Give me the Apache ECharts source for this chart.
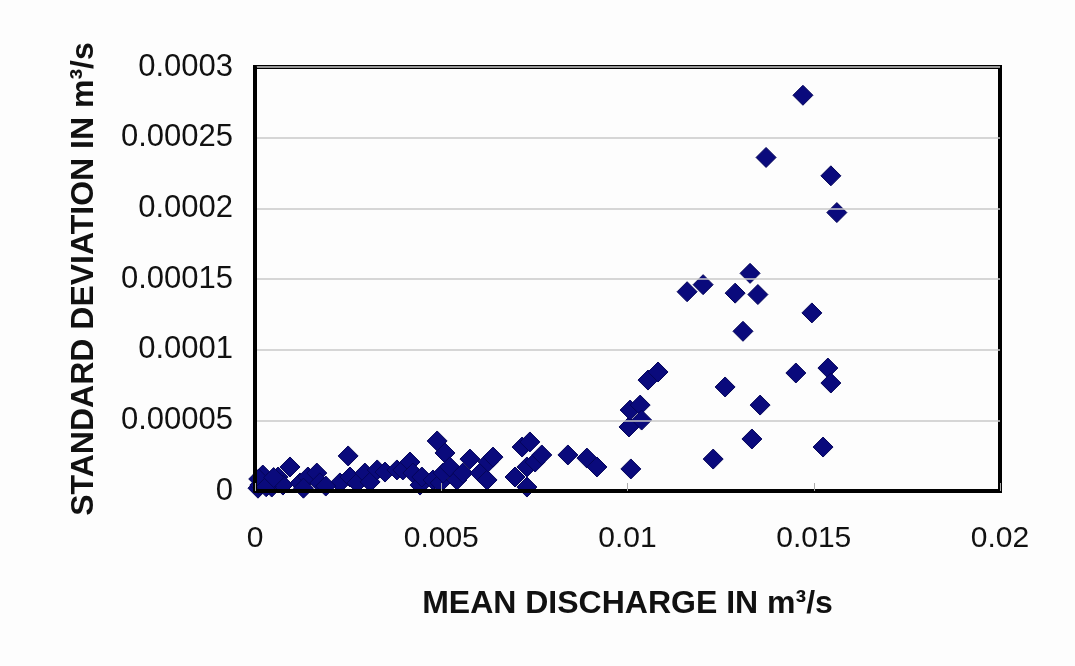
<!DOCTYPE html>
<html>
<head>
<meta charset="utf-8">
<script src="https://cdn.jsdelivr.net/npm/echarts@6/dist/echarts.min.js"></script>
<style>
html,body{margin:0;padding:0;background:#fdfdfd;}
#chart{width:1075px;height:666px;}
</style>
</head>
<body>
<div id="chart"></div>
<script>
// Data
const meanDischarge = [
  0.00008, 0.00013, 0.00021, 0.00035, 0.00045, 0.00062, 0.00075, 0.00094, 0.00121, 0.00142,
  0.00166, 0.00174, 0.00228, 0.0025, 0.00255, 0.00274, 0.00295, 0.00309, 0.00328, 0.00349,
  0.00381, 0.00397, 0.00416, 0.00424, 0.00443, 0.00448, 0.00478, 0.00489, 0.00497, 0.00505,
  0.0051, 0.00523, 0.00542, 0.00558, 0.00577, 0.00604, 0.00623, 0.00626, 0.00639, 0.00698,
  0.00717, 0.0073, 0.0073, 0.00738, 0.00752, 0.0077, 0.0084, 0.00891, 0.00918, 0.01004,
  0.01007, 0.01034, 0.01038, 0.01009, 0.01055, 0.01082, 0.0116, 0.01203, 0.0123, 0.01262,
  0.01289, 0.0131, 0.01329, 0.01334, 0.0135, 0.01356, 0.01372, 0.01452, 0.01471, 0.01495,
  0.01525, 0.01538, 0.01546, 0.01546, 0.01562,
  0.0001, 0.0003, 0.0013, 0.0019, 0.0005
];
const stdDeviation = [
  0.000002, 0.0000042, 0.0000113, 0.0000057, 0.0000028, 0.0000099, 0.0000042, 0.000017, 0.0000057, 0.0000099,
  0.0000127, 0.0000057, 0.0000057, 0.0000248, 0.0000099, 0.0000057, 0.0000127, 0.0000064, 0.0000149, 0.0000134,
  0.0000149, 0.0000149, 0.0000205, 0.0000127, 0.0000042, 0.0000099, 0.0000078, 0.0000354, 0.0000057, 0.0000127,
  0.0000269, 0.000017, 0.0000078, 0.0000127, 0.0000226, 0.0000127, 0.0000078, 0.0000205, 0.000024, 0.0000099,
  0.0000311, 0.000017, 0.0000028, 0.0000347, 0.0000205, 0.0000255, 0.0000255, 0.0000233, 0.000017, 0.0000453,
  0.0000573, 0.0000608, 0.0000502, 0.0000156, 0.0000785, 0.0000842, 0.000141, 0.000146, 0.0000226, 0.0000736,
  0.00014, 0.000113, 0.000154, 0.0000368, 0.000139, 0.0000608, 0.000236, 0.0000835, 0.00028, 0.000126,
  0.0000311, 0.000087, 0.0000764, 0.000223, 0.000197,
  0.0000085, 0.000003, 0.000002, 0.0000035, 0.0000095
];
const xTickLabels = ['0', '0.005', '0.01', '0.015', '0.02'];
const yTickLabels = ['0', '0.00005', '0.0001', '0.00015', '0.0002', '0.00025', '0.0003'];
const xTitle = 'MEAN DISCHARGE IN m³/s';
const yTitle = 'STANDARD DEVIATION IN m³/s';

const points = meanDischarge.map((x, i) => [x, stdDeviation[i]]);
const fam = '"Liberation Sans", Arial, sans-serif';
const titleFont = { fontFamily: fam, fontSize: 32, fontWeight: 'bold', color: '#111' };

const chart = echarts.init(document.getElementById('chart'), null, { renderer: 'canvas' });
chart.setOption({
  backgroundColor: '#fdfdfd',
  animation: false,
  grid: { left: 255, right: 75, top: 67, bottom: 175, show: true, borderColor: '#000', borderWidth: 4, backgroundColor: 'transparent' },
  xAxis: {
    type: 'value', min: 0, max: 0.02, interval: 0.005, z: 5,
    name: xTitle, nameLocation: 'middle', nameGap: 97, nameTextStyle: titleFont,
    axisLine: { show: true, onZero: false, lineStyle: { color: '#000', width: 4 } },
    axisTick: { show: true, inside: true, length: 8, lineStyle: { color: '#aaa', width: 1 } },
    splitLine: { show: false },
    axisLabel: { margin: 33, fontFamily: fam, fontSize: 30, color: '#111', formatter: (v, i) => xTickLabels[i] }
  },
  yAxis: {
    type: 'value', min: 0, max: 0.0003, interval: 0.00005, z: 5,
    name: yTitle, nameLocation: 'middle', nameRotate: 90, nameGap: 155, nameTextStyle: titleFont,
    axisLine: { show: true, onZero: false, lineStyle: { color: '#000', width: 4 } },
    axisTick: { show: false },
    splitLine: { show: true, lineStyle: { color: '#c8c8c8', width: 1.5 } },
    axisLabel: { margin: 22, fontFamily: fam, fontSize: 31, color: '#111', formatter: (v, i) => yTickLabels[i] }
  },
  series: [{
    type: 'scatter', symbol: 'diamond', symbolSize: 20,
    itemStyle: { color: '#0a0a7c', borderColor: '#05055a', borderWidth: 1, opacity: 1 },
    data: points
  }]
});
</script>
</body>
</html>
